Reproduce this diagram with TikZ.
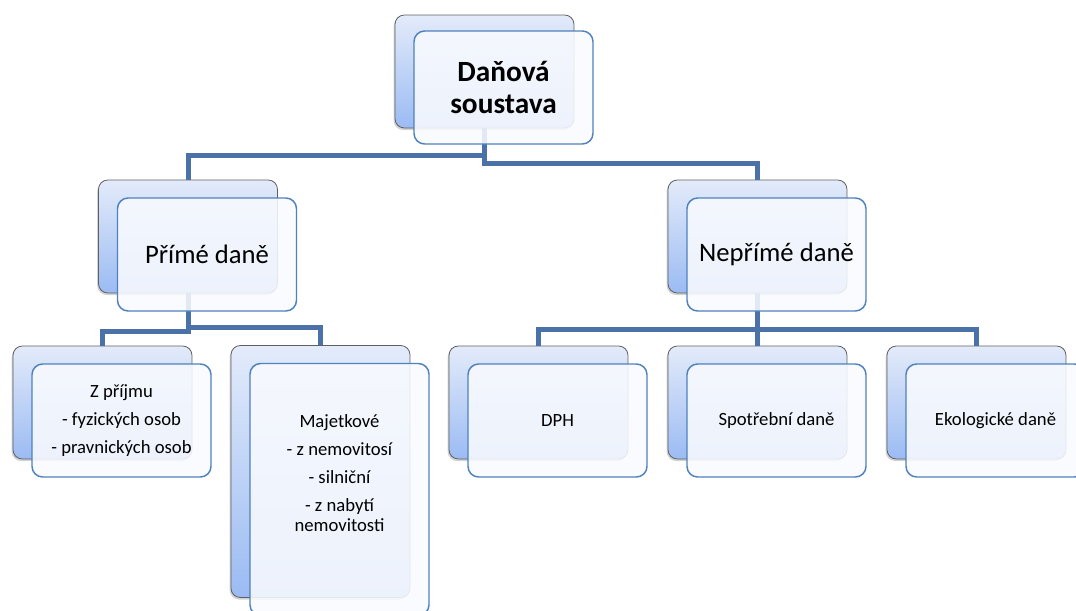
\documentclass[tikz,border=0pt]{standalone}
\usepackage{fontspec}
\setmainfont{Carlito}
\usetikzlibrary{positioning, shadows}

\definecolor{linkblue}{HTML}{4A72A8}
\definecolor{edgeblue}{HTML}{4F81BD}
\definecolor{backtop}{HTML}{E3EBFA}
\definecolor{backbot}{HTML}{9BBBF3}
\definecolor{frontfill}{HTML}{F8FAFE}

\begin{document}
\begin{tikzpicture}[x=0.75pt, y=-0.75pt,
        back/.style={rounded corners=7pt, draw=gray!75!black, line width=0.6pt, top color=backtop, bottom color=backbot, minimum width=134.25pt, minimum height=84.75pt, inner sep=0pt, drop shadow={shadow xshift=-1pt, shadow yshift=-1.5pt, opacity=0.35}},
        front/.style={rounded corners=8pt, draw=edgeblue, line width=1.1pt, fill=frontfill, fill opacity=0.88, text opacity=1, minimum width=134.25pt, minimum height=84.75pt, inner sep=0pt, align=center},
        link/.style={draw=linkblue, line width=3.75pt},
        lvlone/.style={font=\fontsize{22}{23.5}\selectfont\bfseries},
        lvltwo/.style={font=\fontsize{20}{24}\selectfont},
        lvlthree/.style={font=\fontsize{14}{15.5}\selectfont}
      ]
        \clip (0,0) rectangle (1076,611);
        % back boxes
        \node[back] (dan-b) at (484.5,71.5) {};
        \node[back] (prime-b) at (188,236.5) {};
        \node[back] (neprime-b) at (757.5,236.5) {};
        \node[back] (prijem-b) at (102.5,402.5) {};
        \node[back, minimum height=189pt] (majet-b) at (320.5,471.5) {};
        \node[back] (dph-b) at (538.5,402.5) {};
        \node[back] (spotr-b) at (757.5,402.5) {};
        \node[back] (ekol-b) at (976.5,402.5) {};
        % connectors
        \coordinate (top-l) at (484.5,155);
        \coordinate (top-r) at (484.5,163);
        \draw[link] (dan-b.south) -- (top-l) -| (prime-b.north);
        \draw[link] (dan-b.south) -- (top-r) -| (neprime-b.north);
        \coordinate (mid-l) at (188,331);
        \coordinate (mid-r) at (188,327);
        \draw[link] (prime-b.south) -- (mid-l) -| (prijem-b.north);
        \draw[link] (prime-b.south) -- (mid-r) -| (majet-b.north);
        \coordinate (mid-n) at (757.5,329);
        \draw[link] (neprime-b.south) -- (mid-n) -| (dph-b.north);
        \draw[link] (mid-n) -| (ekol-b.north);
        \draw[link] (mid-n) -- (spotr-b.north);
        % front boxes
        \node[front, lvlone] (dan) at ([shift={(19,16)}]dan-b.center) {Daňová\\soustava};
        \node[front, lvltwo] (prime) at ([shift={(19,18)}]prime-b.center) {Přímé daně};
        \node[front, lvltwo] (neprime) at ([shift={(19,18)}]neprime-b.center) {Nepřímé daně};
        \node[front, lvlthree] (prijem) at ([shift={(19,18)}]prijem-b.center) {Z příjmu\\[5.5pt]- fyzických osob\\[5.5pt]- pravnických osob};
        \node[front, minimum height=189pt] (majet) at ([shift={(19,18)}]majet-b.center) {};
        \node[lvlthree, align=center, anchor=north] (majet-t) at ([yshift=-35pt]majet.north) {Majetkové\\[5.5pt]- z nemovitosí\\[5.5pt]- silniční\\[5.5pt]- z nabytí\\nemovitosti};
        \node[front, lvlthree] (dph) at ([shift={(19,18)}]dph-b.center) {DPH};
        \node[front, lvlthree] (spotr) at ([shift={(19,18)}]spotr-b.center) {Spotřební daně};
        \node[front, lvlthree] (ekol) at ([shift={(19,18)}]ekol-b.center) {Ekologické daně};
      \end{tikzpicture}
\end{document}
